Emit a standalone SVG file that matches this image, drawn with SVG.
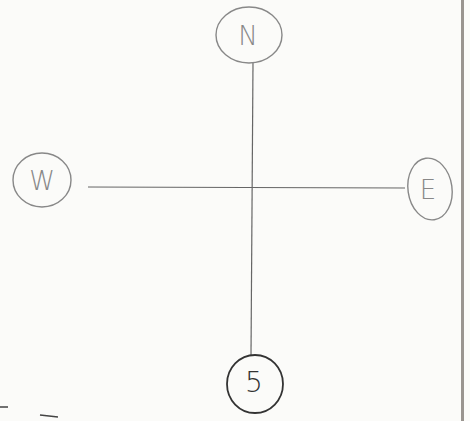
<svg xmlns="http://www.w3.org/2000/svg" width="470" height="421" viewBox="0 0 470 421">
<style>
.ring{fill:none;stroke:#888;stroke-width:1.4}
.ring.dark{stroke:#333;stroke-width:1.8}
.lbl{font-family:"DejaVu Sans",sans-serif;font-size:26px;font-weight:200;fill:#888;text-anchor:middle;dominant-baseline:central}
.lbl.dark{fill:#333;font-size:28px}
.conn{stroke:#666;stroke-width:1.2;fill:none}
</style>
<rect width="470" height="421" fill="#fbfbf9"/>
<rect x="461" y="0" width="3" height="421" fill="#9a9590"/>
<g id="connectors">
<path class="conn" d="M253 62 L251 355"/>
<path class="conn" d="M88 187 L405 188"/>
</g>
<g id="node-N">
<ellipse class="ring" cx="249" cy="35" rx="33" ry="28"/>
<text class="lbl" x="248" y="36">N</text>
</g>
<g id="node-W">
<ellipse class="ring" cx="42" cy="180" rx="29" ry="27"/>
<text class="lbl" x="42" y="181">W</text>
</g>
<g id="node-E">
<ellipse class="ring" cx="430" cy="189" rx="22" ry="31" transform="rotate(-8 430 189)"/>
<text class="lbl" x="428" y="190">E</text>
</g>
<g id="node-S">
<ellipse class="ring dark" cx="255" cy="384" rx="28" ry="29"/>
<text class="lbl dark" x="254" y="382">5</text>
</g>
<path d="M0 407 L8 407 M40 415 L58 417" stroke="#444" stroke-width="1.6" fill="none"/>
</svg>
